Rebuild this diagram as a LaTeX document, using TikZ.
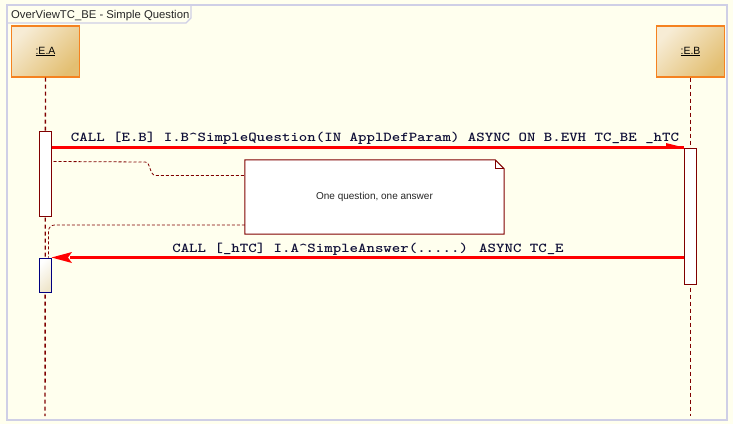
\documentclass[tikz,border=0pt]{standalone}
\usepackage{fontspec}
\setmainfont{Liberation Sans}
\newfontfamily\msgfont{Latin Modern Mono Light}[FakeStretch=1.183]
\usetikzlibrary{calc}
\definecolor{bg}{HTML}{FFFFEE}
\definecolor{framec}{HTML}{CFCFE6}
\definecolor{life}{HTML}{800000}
\definecolor{orangeb}{HTML}{F58220}
\definecolor{tanc}{HTML}{E3BF72}
\definecolor{msgred}{HTML}{FF0000}
\definecolor{navyc}{HTML}{000080}
\definecolor{msgtext}{HTML}{101038}
\definecolor{creamc}{HTML}{EFE6CC}
\begin{document}
\begin{tikzpicture}[x=1pt,y=-1pt,
  objbox/.style={draw=orangeb, line width=1.2pt, top color=white!70!tanc, bottom color=tanc, shading angle=45,
    minimum width=68pt, minimum height=51pt, inner sep=0pt, font=\fontsize{10.5}{12}\selectfont},
  lifeline/.style={draw=life, dash pattern=on 4pt off 3pt, line width=1.4pt},
  act/.style={draw=life, fill=white, line width=1pt, minimum width=12pt, inner sep=0pt},
  msg/.style={draw=msgred, line width=2.6pt},
  msgtxt/.style={font=\msgfont\bfseries\fontsize{13.6}{16}\selectfont, text=msgtext, inner sep=0pt},
  link/.style={draw=life, dash pattern=on 3pt off 2pt, line width=0.8pt},
  framel/.style={draw=framec, line width=1.2pt},
]
\useasboundingbox (0,0) rectangle (733,424);
\fill[bg] (0,0) rectangle (733,424);
% frame
\draw[framel] (7,5) rectangle (727,420);
\draw[framel] (7,23) -- (186,23) -- (191,18) -- (191,5);
\node[anchor=base west, inner sep=0pt, font=\fontsize{11.3}{13}\selectfont, text=black!85] (title) at (11,18.3) {OverViewTC\_BE - Simple Question};
% objects
\node[objbox] (EA) at (45.5,51.5) {\underline{:E.A}};
\node[objbox] (EB) at (690.5,51.5) {\underline{:E.B}};
\coordinate (EAend) at (45,416);
\coordinate (EBend) at (690.5,416);
\draw[lifeline] (EA.south) -- (EAend);
\draw[lifeline] (EB.south) -- (EBend);
% activations
\node[act, minimum height=85pt] (A1) at (45,173.5) {};
\node[act, draw=navyc, top color=white, bottom color=creamc, shading angle=45, minimum height=34pt] (A2) at (45,275) {};
\node[act, minimum height=136pt] (B1) at (690.5,216) {};
% note
\node[inner sep=0pt, minimum width=259pt, minimum height=74pt] (note) at (374.5,197) {};
\draw[life, line width=1pt, fill=white] (note.south west) -- (note.north west) -- ($(note.north east)+(-9,0)$) -- ($(note.north east)+(0,9)$) -- (note.south east) -- cycle;
\draw[life, line width=0.8pt] ($(note.north east)+(-9,0)$) -- ($(note.north east)+(-9,9)$) -- ($(note.north east)+(0,9)$);
\node[inner sep=0pt, font=\fontsize{10}{12}\selectfont, text=black!85] (notetext) at (note.center) {One question, one answer};
% note links
\coordinate (l1a) at ($(A1.north east)+(2,31)$);
\coordinate (l1b) at (145,162);
\coordinate (l1c) at (156,175.5);
\coordinate (l1d) at (note.west |- l1c);
\draw[link] (l1a) -- (l1b) .. controls (151,162) and (149,175.5) .. (l1c) -- (l1d);
\coordinate (l2a) at (note.west |- 0,225);
\coordinate (l2b) at ($(A2.north)+(3.5,0)$);
\draw[link, rounded corners=6pt] (l2a) -- (l2b |- l2a) -- (l2b);
% messages
\coordinate (m1s) at (A1.east |- B1.north);
\draw[msg] (m1s) -- (B1.north west);
\fill[msgred] (B1.north west) -- ++(-18,-4.5) -- ++(0,4.5) -- cycle;
\node[msgtxt, anchor=base] (t1) at (375,141) {CALL [E.B] I.B\textasciicircum SimpleQuestion(IN ApplDefParam) ASYNC ON B.EVH TC\_BE \_hTC};
\coordinate (m2s) at (B1.west |- A2.north);
\draw[msg] (m2s) -- ($(A2.north east)+(18,0)$);
\fill[msgred] (A2.north east) -- ++(20.5,-5.5) -- ++(-4,5.5) -- ++(4,5.5) -- cycle;
\node[msgtxt, anchor=base] (t2) at (368,252) {CALL [\_hTC] I.A\textasciicircum SimpleAnswer(.....) ASYNC TC\_E};
\end{tikzpicture}
\end{document}
